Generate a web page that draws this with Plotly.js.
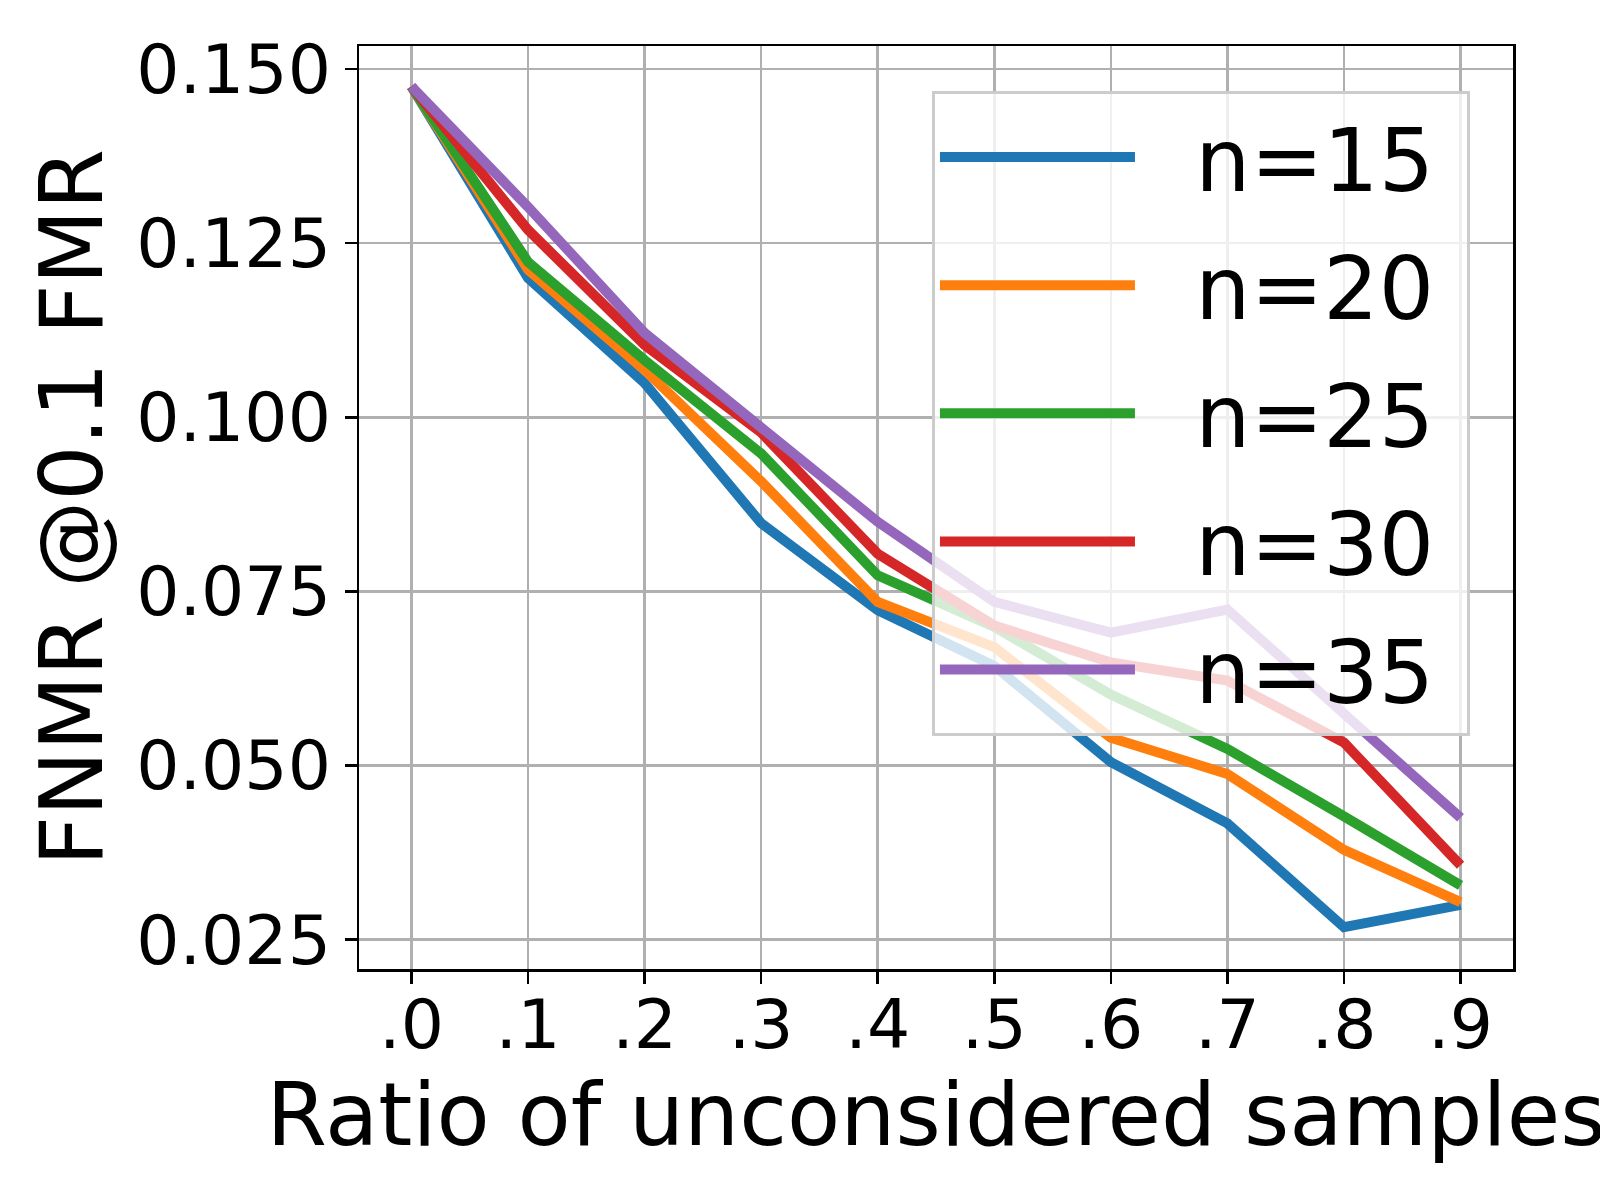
<!DOCTYPE html>
<html>
<head>
<meta charset="utf-8">
<script src="https://cdn.plot.ly/plotly-3.0.1.min.js"></script>
<style>
  html, body { margin: 0; padding: 0; background: #ffffff; }
  #chart { width: 1600px; height: 1200px; }
</style>
</head>
<body>
<div id="chart"></div>
<script>
// -------------------------------------------------------------------------
// Data
// -------------------------------------------------------------------------
const ratios     = [0.0, 0.1, 0.2, 0.3, 0.4, 0.5, 0.6, 0.7, 0.8, 0.9];
const ratioTicks = [".0", ".1", ".2", ".3", ".4", ".5", ".6", ".7", ".8", ".9"];
const fnmrTicks  = [0.025, 0.050, 0.075, 0.100, 0.125, 0.150];

const seriesNames = ["n=15", "n=20", "n=25", "n=30", "n=35"];
const fnmrN15 = [0.1475, 0.1200, 0.1049, 0.0848, 0.0723, 0.0643, 0.0505, 0.0417, 0.0268, 0.0300];
const fnmrN20 = [0.1475, 0.1212, 0.1068, 0.0908, 0.0735, 0.0670, 0.0540, 0.0488, 0.0379, 0.0304];
const fnmrN25 = [0.1475, 0.1223, 0.1082, 0.0948, 0.0773, 0.0699, 0.0602, 0.0524, 0.0427, 0.0328];
const fnmrN30 = [0.1475, 0.1269, 0.1104, 0.0978, 0.0804, 0.0701, 0.0648, 0.0622, 0.0533, 0.0357];
const fnmrN35 = [0.1475, 0.1302, 0.1121, 0.0984, 0.0850, 0.0735, 0.0691, 0.0724, 0.0576, 0.0425];

// matplotlib tab10
const LINE_COLORS = ["#1f77b4", "#ff7f0e", "#2ca02c", "#d62728", "#9467bd"];

const FONT = "DejaVu Sans, sans-serif";
const GRID = "#b0b0b0";

const allSeries = [fnmrN15, fnmrN20, fnmrN25, fnmrN30, fnmrN35];

// padding round the legend text, like matplotlib's handletextpad / borderpad
const LEGEND_PAD = "\u00a0\u00a0";
const LEGEND_TAIL = "\u00a0";

const traces = allSeries.map((ys, i) => ({
  x: ratios,
  y: ys,
  name: LEGEND_PAD + seriesNames[i] + LEGEND_TAIL,
  legendgroup: seriesNames[i],
  type: "scatter",
  mode: "lines",
  line: { color: LINE_COLORS[i], width: 10 },
}));

// shared axis styling
function axisBase() {
  return {
    showgrid: true,
    gridcolor: GRID,
    gridwidth: 2.5,
    zeroline: false,
    showline: true,
    mirror: true,
    linecolor: "#000000",
    linewidth: 2.5,
    ticks: "outside",
    ticklen: 12,
    tickwidth: 2.5,
    tickcolor: "#000000",
    tickfont: { family: FONT, size: 68, color: "#000000" },
  };
}

const layout = {
  width: 1600,
  height: 1200,
  margin: { l: 359, r: 87, t: 46, b: 231 },
  paper_bgcolor: "#ffffff",
  plot_bgcolor: "#ffffff",
  font: { family: FONT, color: "#000000" },
  showlegend: true,
  xaxis: Object.assign(axisBase(), {
    range: [-0.045, 0.945],
    tickvals: ratios,
    ticktext: ratioTicks,
    ticklabelstandoff: -17,
    title: {
      text: "Ratio of unconsidered samples",
      font: { family: FONT, size: 87, color: "#000000" },
      standoff: 6,
    },
  }),
  yaxis: Object.assign(axisBase(), {
    range: [0.0208, 0.1533],
    tickvals: fnmrTicks,
    tickformat: ".3f",
    title: {
      text: "FNMR @0.1 FMR",
      font: { family: FONT, size: 87, color: "#000000" },
      standoff: 5,
    },
  }),
  legend: {
    x: 0.9627,
    y: 0.9512,
    xanchor: "right",
    yanchor: "top",
    bgcolor: "rgba(255,255,255,0.8)",
    bordercolor: "#cccccc",
    borderwidth: 3,
    font: { family: FONT, size: 87, color: "#000000" },
    itemwidth: 195,
    tracegroupgap: 12,
  },
};

Plotly.newPlot("chart", traces, layout, { displayModeBar: false, staticPlot: true });
</script>
</body>
</html>
